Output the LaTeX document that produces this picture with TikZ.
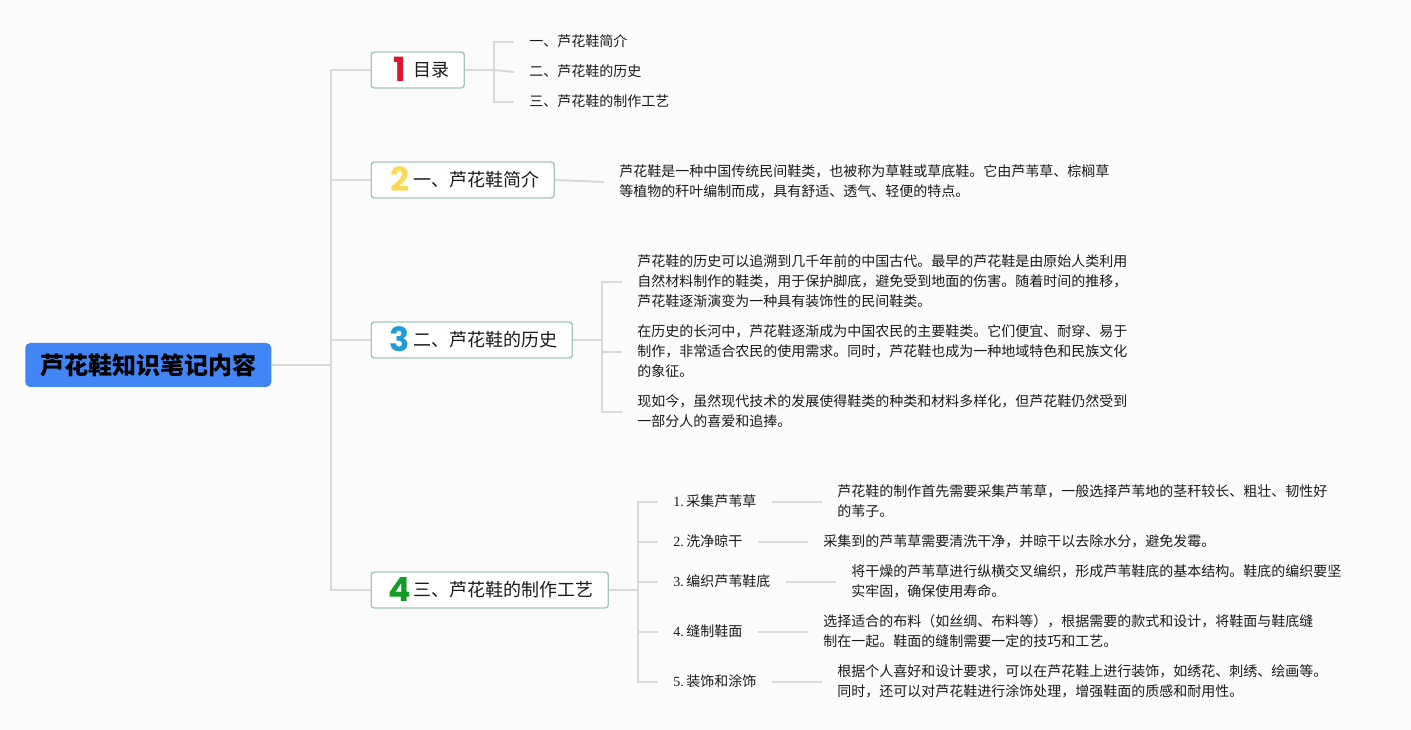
\documentclass[tikz,border=0pt]{standalone}
\usepackage{fontspec}
\setmainfont{Liberation Serif}
\newfontfamily\cjk{Noto Sans CJK SC}
\newfontfamily\numfont{Poppins}
\definecolor{paper}{HTML}{FBFBFB}
\definecolor{linegray}{HTML}{D9D9D9}
\definecolor{boxedge}{HTML}{A6C6BD}
\definecolor{rootblue}{HTML}{4285F4}
\definecolor{ink}{HTML}{1A1A1A}
\definecolor{iconred}{HTML}{DC1430}
\definecolor{iconyellow}{HTML}{F7DC5C}
\definecolor{iconblue}{HTML}{1F9BD8}
\definecolor{icongreen}{HTML}{149C28}
\newcommand{\numicon}[2]{\makebox[20.25pt][c]{\smash{\raisebox{-4.5pt}{\numfont\bfseries\fontsize{25}{25}\selectfont\color{#1}#2}}}}
\newcommand{\lowered}[1]{\raisebox{-0.75pt}{#1}}
\newcommand{\stepno}[1]{{\rmfamily #1.\hspace{1.9pt}}}
\tikzset{
    link/.style={draw=linegray,line width=1.5pt},
    lineup/.style={yshift=0.75pt},
    rootbox/.style={anchor=west,fill=rootblue,rounded corners=3.75pt,inner sep=0pt,minimum width=184.5pt,minimum height=33pt,font=\cjk\bfseries\fontsize{18}{18}\selectfont,text=black},
    topicbox/.style={anchor=west,draw=boxedge,line width=1.1pt,fill=white,rounded corners=2.25pt,inner xsep=11.25pt,inner ysep=0pt,minimum height=27pt,font=\cjk\fontsize{13.5}{18}\selectfont,text=ink},
    leaftext/.style={anchor=west,inner xsep=11.25pt,inner ysep=0pt,align=left,font=\cjk\fontsize{10.5}{15}\selectfont,text=ink},
}
\begin{document}
\begin{tikzpicture}[x=0.75pt,y=0.75pt,yscale=-1,xscale=1]
    \fill[paper] (0,0) rectangle (1411,730);

    \node[rootbox] (root) at (25,365) {\lowered{芦花鞋知识笔记内容}};
    \coordinate (mainjoin) at (331,365);

    \node[topicbox] (toc) at (370.5,70) {\numicon{iconred}{1}\lowered{目录}};
    \node[topicbox] (intro) at (370.5,180) {\numicon{iconyellow}{2}\lowered{一、芦花鞋简介}};
    \node[topicbox] (history) at (370.5,340) {\numicon{iconblue}{3}\lowered{二、芦花鞋的历史}};
    \node[topicbox] (craft) at (370.5,590) {\numicon{icongreen}{4}\lowered{三、芦花鞋的制作工艺}};

    \draw[link] (root.east) -- (mainjoin);
    \draw[link] (mainjoin) |- (toc.west);
    \draw[link] (mainjoin) |- (intro.west);
    \draw[link] (mainjoin) |- (history.west);
    \draw[link] (mainjoin) |- (craft.west);

    \node[leaftext] (tocone) at (514,41) {一、芦花鞋简介};
    \node[leaftext] (toctwo) at (514,71) {二、芦花鞋的历史};
    \node[leaftext] (tocthree) at (514,101) {三、芦花鞋的制作工艺};
    \coordinate (tocjoin) at (494,70);
    \draw[link] (toc.east) -- (tocjoin);
    \draw[link] (tocjoin) |- ([lineup]tocone.west);
    \draw[link] (tocjoin) -- ([lineup]toctwo.west);
    \draw[link] (tocjoin) |- ([lineup]tocthree.west);

    \node[leaftext] (introtext) at (604,181) {芦花鞋是一种中国传统民间鞋类，也被称为草鞋或草底鞋。它由芦苇草、棕榈草\\等植物的秆叶编制而成，具有舒适、透气、轻便的特点。};
    \draw[link] (intro.east) -- ([lineup]introtext.west);

    \node[leaftext] (histone) at (622,281) {芦花鞋的历史可以追溯到几千年前的中国古代。最早的芦花鞋是由原始人类利用\\自然材料制作的鞋类，用于保护脚底，避免受到地面的伤害。随着时间的推移，\\芦花鞋逐渐演变为一种具有装饰性的民间鞋类。};
    \node[leaftext] (histtwo) at (622,351) {在历史的长河中，芦花鞋逐渐成为中国农民的主要鞋类。它们便宜、耐穿、易于\\制作，非常适合农民的使用需求。同时，芦花鞋也成为一种地域特色和民族文化\\的象征。};
    \node[leaftext] (histthree) at (622,411) {现如今，虽然现代技术的发展使得鞋类的种类和材料多样化，但芦花鞋仍然受到\\一部分人的喜爱和追捧。};
    \coordinate (histjoin) at (602,340);
    \draw[link] (history.east) -- (histjoin);
    \draw[link] (histjoin) |- ([lineup]histone.west);
    \draw[link] (histjoin) |- ([lineup]histtwo.west);
    \draw[link] (histjoin) |- ([lineup]histthree.west);

    \node[leaftext] (stepone) at (658,501) {\stepno{1}采集芦苇草};
    \node[leaftext] (steptwo) at (658,541) {\stepno{2}洗净晾干};
    \node[leaftext] (stepthree) at (658,581) {\stepno{3}编织芦苇鞋底};
    \node[leaftext] (stepfour) at (658,631) {\stepno{4}缝制鞋面};
    \node[leaftext] (stepfive) at (658,681) {\stepno{5}装饰和涂饰};
    \coordinate (craftjoin) at (638,590);
    \draw[link] (craft.east) -- (craftjoin);
    \draw[link] (craftjoin) |- ([lineup]stepone.west);
    \draw[link] (craftjoin) |- ([lineup]steptwo.west);
    \draw[link] (craftjoin) |- ([lineup]stepthree.west);
    \draw[link] (craftjoin) |- ([lineup]stepfour.west);
    \draw[link] (craftjoin) |- ([lineup]stepfive.west);

    \node[leaftext] (stepnoteone) at (822,501) {芦花鞋的制作首先需要采集芦苇草，一般选择芦苇地的茎秆较长、粗壮、韧性好\\的苇子。};
    \node[leaftext] (stepnotetwo) at (808,541) {采集到的芦苇草需要清洗干净，并晾干以去除水分，避免发霉。};
    \node[leaftext] (stepnotethree) at (836,581) {将干燥的芦苇草进行纵横交叉编织，形成芦苇鞋底的基本结构。鞋底的编织要坚\\实牢固，确保使用寿命。};
    \node[leaftext] (stepnotefour) at (808,631) {选择适合的布料（如丝绸、布料等），根据需要的款式和设计，将鞋面与鞋底缝\\制在一起。鞋面的缝制需要一定的技巧和工艺。};
    \node[leaftext] (stepnotefive) at (822,681) {根据个人喜好和设计要求，可以在芦花鞋上进行装饰，如绣花、刺绣、绘画等。\\同时，还可以对芦花鞋进行涂饰处理，增强鞋面的质感和耐用性。};
    \draw[link] ([lineup]stepone.east) -- ([lineup]stepnoteone.west);
    \draw[link] ([lineup]steptwo.east) -- ([lineup]stepnotetwo.west);
    \draw[link] ([lineup]stepthree.east) -- ([lineup]stepnotethree.west);
    \draw[link] ([lineup]stepfour.east) -- ([lineup]stepnotefour.west);
    \draw[link] ([lineup]stepfive.east) -- ([lineup]stepnotefive.west);
\end{tikzpicture}
\end{document}
